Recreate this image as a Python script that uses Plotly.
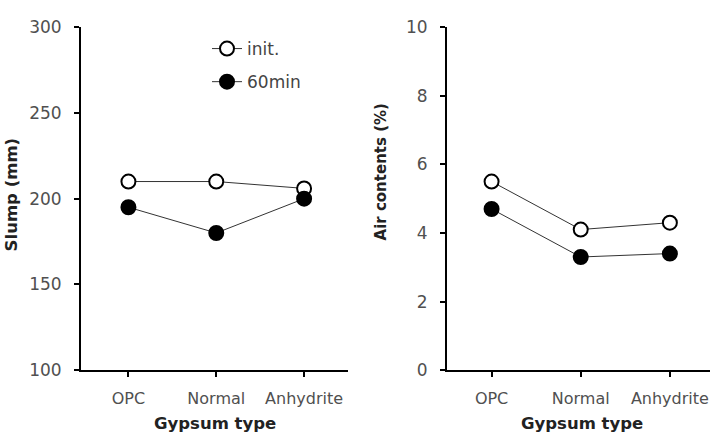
import plotly.graph_objects as go

categories = ["OPC", "Normal", "Anhydrite"]
slump_init = [210, 210, 206]
slump_60 = [195, 180, 200]
air_init = [5.5, 4.1, 4.3]
air_60 = [4.7, 3.3, 3.4]
slump_ticks = [100, 150, 200, 250, 300]
air_ticks = [0, 2, 4, 6, 8, 10]

W, H = 710, 448
FONT = "DejaVu Sans"
TICK_COLOR = "#505050"

fig = go.Figure()

def add(y, xa, ya, name, filled, show):
    fig.add_trace(go.Scatter(
        x=list(range(len(categories))), y=y, xaxis=xa, yaxis=ya, name=name,
        legendgroup=name, mode="lines+markers", showlegend=show,
        line=dict(color="#333333", width=1),
        marker=dict(size=14, color="black" if filled else "white",
                    line=dict(color="black", width=2)),
    ))

add(slump_init, "x", "y", "init.", False, True)
add(slump_60, "x", "y", "60min", True, True)
add(air_init, "x2", "y2", "init.", False, False)
add(air_60, "x2", "y2", "60min", True, False)

ydom = [(H - 377) / H, (H - 18) / H]
axis_common = dict(showline=True, linecolor="black", linewidth=2, ticks="outside",
                   ticklen=5, tickwidth=2, tickcolor="black", showgrid=False, zeroline=False)
ytick_font = dict(family=FONT, size=17, color=TICK_COLOR)
xtick_font = dict(family=FONT, size=16, color=TICK_COLOR)

fig.update_layout(
    width=W, height=H, margin=dict(l=0, r=0, t=0, b=0),
    paper_bgcolor="white", plot_bgcolor="white",
    xaxis=dict(domain=[81 / W, 348 / W], range=[-0.54, 2.5], anchor="y",
               tickvals=[0, 1, 2], ticktext=categories, ticklabelstandoff=8,
               tickfont=xtick_font, ticklabeloverflow="allow", **axis_common),
    yaxis=dict(domain=ydom, range=[100, 300], anchor="x",
               tickvals=slump_ticks, ticklabelstandoff=9, tickfont=ytick_font, **axis_common),
    xaxis2=dict(domain=[447 / W, 1.0], range=[-0.5, 2.45], anchor="y2",
                tickvals=[0, 1, 2], ticktext=categories, ticklabelstandoff=8,
                tickfont=xtick_font, ticklabeloverflow="allow", **axis_common),
    yaxis2=dict(domain=ydom, range=[0, 10], anchor="x2",
                tickvals=air_ticks, ticklabelstandoff=9, tickfont=ytick_font, **axis_common),
    legend=dict(x=207 / W, y=1 - 22 / H, xanchor="left", yanchor="top",
                bgcolor="rgba(0,0,0,0)", font=dict(family=FONT, size=17, color="#444444"),
                tracegroupgap=8),
    showlegend=True,
)

title_font = dict(family=FONT, size=16.5, color="#222222")
for xc in (215, 582):
    fig.add_annotation(x=xc / W, y=1 - 433 / H, xref="paper", yref="paper",
                       xanchor="center", yanchor="middle",
                       text="<b>Gypsum type</b>", showarrow=False, font=title_font)
fig.add_annotation(x=11 / W, y=1 - 193 / H, xref="paper", yref="paper",
                   xanchor="center", yanchor="middle",
                   text="<b>Slump (mm)</b>", showarrow=False, textangle=-90, font=title_font)
fig.add_annotation(x=381 / W, y=1 - 169 / H, xref="paper", yref="paper",
                   xanchor="center", yanchor="middle",
                   text="<b>Air contents (%)</b>", showarrow=False, textangle=-90,
                   font=dict(family=FONT, size=15, color="#222222"))

fig.write_html("out.html")
